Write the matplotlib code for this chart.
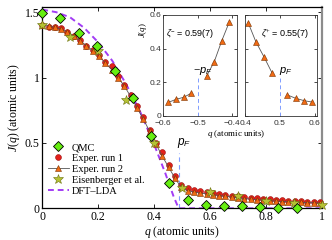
import matplotlib.pyplot as plt
from matplotlib.lines import Line2D

plt.rcParams['font.family'] = ['Liberation Serif', 'DejaVu Serif']
plt.rcParams['mathtext.fontset'] = 'custom'
plt.rcParams['mathtext.rm'] = 'Liberation Serif'
plt.rcParams['mathtext.it'] = 'Liberation Serif:italic'
plt.rcParams['mathtext.sf'] = 'Liberation Sans:italic'

# QMC
q_qmc = [0.0, 0.065, 0.13, 0.195, 0.26, 0.325, 0.39, 0.455, 0.52, 0.585,
         0.65, 0.715, 0.78, 0.845, 0.91]
J_qmc = [1.495, 1.457, 1.342, 1.245, 1.048, 0.844, 0.556, 0.19, 0.065, 0.025,
         0.02, 0.014, 0.008, 0.004, 0.003]

# experimental runs (same q grid)
q_exp = [0.0, 0.023, 0.045, 0.068, 0.090, 0.113, 0.136, 0.158, 0.181, 0.203,
         0.226, 0.249, 0.271, 0.294, 0.316, 0.339, 0.362, 0.384, 0.407, 0.429,
         0.452, 0.475, 0.497, 0.520, 0.542, 0.565, 0.588, 0.610, 0.633, 0.655,
         0.678, 0.701, 0.723, 0.746, 0.768, 0.791, 0.814, 0.836, 0.859, 0.881,
         0.904, 0.927, 0.949, 0.972, 0.994]
J_run1 = [1.40, 1.39, 1.385, 1.38, 1.35, 1.32, 1.29, 1.24, 1.21, 1.17,
          1.12, 1.085, 1.01, 0.945, 0.87, 0.78, 0.695, 0.60, 0.50, 0.43,
          0.33, 0.245, 0.175, 0.155, 0.142, 0.134, 0.125, 0.117, 0.11, 0.103,
          0.097, 0.091, 0.086, 0.081, 0.076, 0.072, 0.068, 0.064, 0.061, 0.058,
          0.056, 0.054, 0.052, 0.05, 0.048]
J_run2 = [1.40, 1.395, 1.385, 1.37, 1.35, 1.315, 1.28, 1.245, 1.205, 1.165,
          1.11, 1.06, 1.0, 0.935, 0.855, 0.77, 0.68, 0.59, 0.49, 0.40,
          0.315, 0.23, 0.16, 0.135, 0.125, 0.117, 0.11, 0.104, 0.098, 0.092,
          0.086, 0.080, 0.075, 0.070, 0.066, 0.062, 0.058, 0.055, 0.052, 0.050,
          0.048, 0.046, 0.044, 0.042, 0.040]

# Eisenberger et al.
q_eis = [0.0, 0.1, 0.2, 0.3, 0.4, 0.5, 0.6, 0.7, 0.8, 0.9, 1.0]
J_eis = [1.40, 1.31, 1.20, 0.83, 0.50, 0.155, 0.125, 0.093, 0.058, 0.037, 0.022]

# DFT-LDA
q_dft = [0.0, 0.05, 0.1, 0.15, 0.2, 0.25, 0.3, 0.35, 0.4, 0.44, 0.47, 0.488, 1.0]
J_dft = [1.52, 1.50, 1.46, 1.38, 1.27, 1.13, 0.95, 0.74, 0.49, 0.27, 0.09, 0.0, 0.0]

p_F = 0.488

# insets
in1_q = [-0.585, -0.563, -0.541, -0.519, -0.474, -0.452, -0.430, -0.408]
in1_J = [0.081, 0.099, 0.111, 0.135, 0.238, 0.323, 0.448, 0.56]
in2_q = [0.409, 0.431, 0.454, 0.478, 0.521, 0.545, 0.569, 0.591]
in2_J = [0.554, 0.441, 0.352, 0.253, 0.125, 0.105, 0.091, 0.083]

c_qmc = '#66ee11'
c_r1 = '#e3201b'
c_r2 = '#f06a14'
c_eis = '#b5c234'
c_dft = '#a23cf5'
c_pf = '#7f9cff'

fig = plt.figure(figsize=(3.32, 2.4), dpi=100)
ax = fig.add_axes([0.1274, 0.132, 0.8416, 0.839])

ax.plot(q_dft, J_dft, color=c_dft, lw=1.4, ls=(0, (3, 2)), zorder=2)
ax.plot([p_F, p_F], [0, 0.42], color=c_pf, lw=0.8, ls=(0, (4, 3)), zorder=1)
ax.plot(q_exp, J_run1, ls='none', marker='o', ms=4.2, mfc=c_r1, mec='#9a1010',
        mew=0.4, zorder=3, clip_on=False)
ax.plot(q_exp, J_run2, color='#555555', lw=0.6, marker='^', ms=4.5, mfc=c_r2,
        mec='#7a3300', mew=0.4, zorder=4, clip_on=False)
ax.plot(q_eis, J_eis, ls='none', marker='*', ms=7.5, mfc=c_eis, mec='#6b7010',
        mew=0.4, zorder=5, clip_on=False)
ax.plot(q_qmc, J_qmc, ls='none', marker='D', ms=4.8, mfc=c_qmc, mec='black',
        mew=0.6, zorder=6, clip_on=False)

ax.text(p_F - 0.005, 0.5, r'$\mathsf{p}_\mathsf{F}$', fontsize=8.5, ha='left', va='center')

ax.set_xlim(0, 1)
ax.set_ylim(0, 1.54)
ax.set_xticks([0, 0.2, 0.4, 0.6, 0.8, 1.0])
ax.set_xticklabels(['0', '0.2', '0.4', '0.6', '0.8', '1'])
ax.set_yticks([0, 0.5, 1.0, 1.5])
ax.set_yticklabels(['0', '0.5', '1', '1.5'])
ax.tick_params(direction='in', length=3, width=0.6, top=True, right=True,
               labelsize=8.5, pad=2)
for s in ['left', 'bottom', 'top']:
    ax.spines[s].set_linewidth(0.9)
ax.spines['right'].set_color('#8c8c8c')
ax.spines['right'].set_linewidth(1.6)
ax.set_xlabel(r'$q$ (atomic units)', fontsize=8.5, labelpad=1)
ax.set_ylabel(r'$J(q)$ (atomic units)', fontsize=8.5, labelpad=2)

handles = [
    Line2D([], [], ls='none', marker='D', ms=4.8, mfc=c_qmc, mec='black', mew=0.6),
    Line2D([], [], ls='none', marker='o', ms=4.2, mfc=c_r1, mec='#9a1010', mew=0.4),
    Line2D([], [], color='#555555', lw=0.6, marker='^', ms=4.5, mfc=c_r2,
           mec='#7a3300', mew=0.4),
    Line2D([], [], ls='none', marker='*', ms=7.5, mfc=c_eis, mec='#6b7010', mew=0.4),
    Line2D([], [], color=c_dft, lw=1.4, ls=(0, (3, 2))),
]
labels = ['QMC', 'Exper. run 1', 'Exper. run 2', 'Eisenberger et al.', 'DFT\u2013LDA']
ax.legend(handles, labels, loc='lower left', bbox_to_anchor=(0.0, 0.035),
          frameon=False, fontsize=7.5, handlelength=2.0, handletextpad=0.3,
          labelspacing=0.15, borderaxespad=0.2, borderpad=0.35)

# insets
ins1 = fig.add_axes([0.4919, 0.5167, 0.222, 0.421])
ins2 = fig.add_axes([0.738, 0.5167, 0.2169, 0.421])
for a in (ins1, ins2):
    a.set_facecolor('white')
    a.tick_params(direction='in', length=2, width=0.5, top=True, right=True,
                  labelsize=6, pad=1.5, labelcolor='#333333')
    a.tick_params(axis='x', pad=3)
    for s in a.spines.values():
        s.set_linewidth(0.6)
        s.set_color('#333333')
    a.set_ylim(0, 0.6)
    a.set_yticks([0, 0.2, 0.4, 0.6])

ins1.plot(in1_q[:4], in1_J[:4], color='#555555', lw=0.6, marker='^', ms=4.5,
          mfc=c_r2, mec='#7a3300', mew=0.4)
ins1.plot(in1_q[4:], in1_J[4:], color='#555555', lw=0.6, marker='^', ms=4.5,
          mfc=c_r2, mec='#7a3300', mew=0.4)
ins1.plot([-0.5, -0.5], [0, 0.23], color=c_pf, lw=0.7, ls=(0, (4, 3)))
ins1.set_xlim(-0.6, -0.386)
ins1.set_xticks([-0.6, -0.5, -0.4])
ins1.set_xticklabels(['\u22120.6', '\u22120.5', '\u22120.4'], family='Liberation Sans')
ins1.set_yticklabels(['0', '0.2', '0.4', '0.6'], family='Liberation Sans')
ins1.set_ylabel(r'$J(q)$', fontsize=6.5)
ins1.yaxis.set_label_coords(-0.2, 0.85)
ins1.text(-0.592, 0.49, r'$\mathsf{\zeta}^{-}$ = 0.59(7)', fontsize=6.5,
          family='Liberation Sans', ha='left', va='center')
ins1.text(-0.486, 0.27, r'$-\mathsf{p}_\mathsf{F}$', fontsize=8, ha='center', va='center')

ins2.plot(in2_q[:4], in2_J[:4], color='#555555', lw=0.6, marker='^', ms=4.5,
          mfc=c_r2, mec='#7a3300', mew=0.4)
ins2.plot(in2_q[4:], in2_J[4:], color='#555555', lw=0.6, marker='^', ms=4.5,
          mfc=c_r2, mec='#7a3300', mew=0.4)
ins2.plot([0.5, 0.5], [0, 0.23], color=c_pf, lw=0.7, ls=(0, (4, 3)))
ins2.set_xlim(0.4, 0.606)
ins2.set_xticks([0.4, 0.5, 0.6])
ins2.set_xticklabels(['0.4', '0.5', '0.6'], family='Liberation Sans')
ins2.set_yticklabels([])
ins2.text(0.445, 0.49, r'$\mathsf{\zeta}^{+}$ = 0.55(7)', fontsize=6.5,
          family='Liberation Sans', ha='left', va='center')
ins2.text(0.498, 0.27, r'$\mathsf{p}_\mathsf{F}$', fontsize=8, ha='left', va='center')

fig.text(0.713, 0.44, r'$q$ (atomic units)', fontsize=6.5, ha='center', va='center')

fig.savefig('out.png', dpi=100)
